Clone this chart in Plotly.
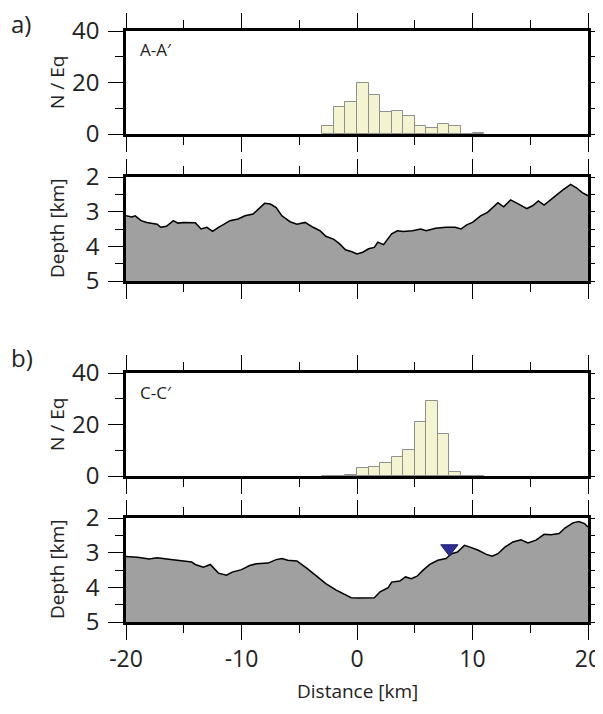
import plotly.graph_objects as go

# ---------------- data ----------------
bin_left = [-3, -2, -1, 0, 1, 2, 3, 4, 5, 6, 7, 8, 9, 10]
counts_a = [3, 10.5, 12.5, 20, 15, 8.5, 9, 7, 3, 2.5, 4, 3, 0, 0.5]
counts_b = [0, 0, 0.5, 3, 3.5, 5, 7.5, 10, 21, 29, 16.5, 1.5, 0, 0]

dist_a = [-20, -19.5, -19.2, -18.7, -18.2, -17.7, -17.3, -17, -16.5, -15.9, -15.5, -15, -14,
          -13.5, -13, -12.5, -12, -11.5, -11, -10.3, -9.7, -9, -8.7, -8, -7.5, -7, -6.5,
          -5.8, -5.2, -4.5, -3.8, -3.2, -2.7, -2, -1.5, -1, -0.5, 0, 0.5, 1, 1.5, 1.8, 2.3,
          3, 3.5, 4, 4.8, 5.5, 6, 6.8, 7.7, 8.5, 9, 9.5, 10, 10.7, 11.3, 11.8, 12.2, 12.7,
          13.3, 14, 14.7, 15.2, 15.7, 16.2, 17, 17.8, 18.5, 19, 19.5, 20]
depth_a = [3.12, 3.15, 3.12, 3.26, 3.31, 3.33, 3.36, 3.45, 3.42, 3.26, 3.33, 3.31, 3.32,
           3.50, 3.45, 3.57, 3.45, 3.36, 3.26, 3.21, 3.12, 3.07, 2.97, 2.76, 2.78, 2.88, 3.12,
           3.29, 3.36, 3.31, 3.45, 3.55, 3.71, 3.80, 3.93, 4.10, 4.15, 4.22, 4.17, 4.07, 4.03,
           3.88, 3.95, 3.64, 3.55, 3.57, 3.55, 3.50, 3.55, 3.48, 3.45, 3.45, 3.50, 3.38, 3.31,
           3.12, 3.02, 2.88, 2.74, 2.86, 2.66, 2.78, 2.91, 2.83, 2.69, 2.81, 2.59, 2.38, 2.21,
           2.31, 2.45, 2.54]

dist_b = [-20, -19, -18, -17.3, -16.3, -15.3, -14.3, -14, -13.3, -12.7, -12, -11.3, -10.8,
          -10, -9.3, -8.7, -7.7, -7, -6.5, -6, -5.2, -4.3, -3.5, -2.7, -1.8, -1, -0.5, 0.2,
          1, 1.5, 2, 2.7, 3, 3.7, 4.2, 4.7, 5.2, 5.7, 6.3, 7, 7.7, 8.2, 8.7, 9.3, 9.8, 10.5,
          11.2, 11.7, 12.2, 12.8, 13.5, 14.2, 14.8, 15.5, 16.2, 16.8, 17.5, 18, 18.7, 19.2,
          19.7, 20]
depth_b = [3.11, 3.13, 3.18, 3.15, 3.19, 3.22, 3.27, 3.34, 3.42, 3.34, 3.59, 3.65, 3.56,
           3.49, 3.37, 3.32, 3.30, 3.20, 3.17, 3.22, 3.24, 3.46, 3.67, 3.89, 4.08, 4.23, 4.30,
           4.31, 4.30, 4.30, 4.13, 4.01, 3.85, 3.82, 3.70, 3.75, 3.68, 3.51, 3.34, 3.22, 3.17,
           3.03, 2.98, 2.79, 2.84, 2.93, 3.05, 3.10, 3.03, 2.84, 2.69, 2.63, 2.72, 2.64, 2.47,
           2.48, 2.45, 2.29, 2.14, 2.10, 2.16, 2.26]

station_dist = [8.0]
station_depth = [2.88]

x_ticks = [-20, -10, 0, 10, 20]
x_ticktext = ["-20", "-10", "0", "10", "20"]
hist_ticks = [0, 20, 40]
depth_ticks = [2, 3, 4, 5]

# ---------------- figure ----------------
# page body has an 8px margin: figure sits at (8, 8) in the 603x714 window
OFF = 8
W, H = 595, 698
FONT = "Open Sans"

def px(x):
    return (x - OFF) / W

def py(y):
    return 1 - (y - OFF) / H

def yd(top, bottom):
    return [py(bottom), py(top)]

x_dom = [px(126), px(588)]
panels = [yd(31, 134), yd(177, 281), yd(373, 476), yd(518, 622)]

fig = go.Figure()

bar_centers = [b + 0.5 for b in bin_left]
bar_style = dict(marker=dict(color="#f4f4d0", line=dict(color="#8f8f8f", width=1)),
                 width=1.0, showlegend=False, hoverinfo="skip")

fig.add_trace(go.Bar(x=bar_centers, y=counts_a, xaxis="x", yaxis="y", **bar_style))
fig.add_trace(go.Bar(x=bar_centers, y=counts_b, xaxis="x3", yaxis="y3", **bar_style))

for dist, dep, xa, ya in [(dist_a, depth_a, "x2", "y2"), (dist_b, depth_b, "x4", "y4")]:
    fig.add_trace(go.Scatter(x=[dist[0], dist[-1]], y=[5, 5], mode="lines",
                             line=dict(width=0, color="#a0a0a0"), xaxis=xa, yaxis=ya,
                             showlegend=False, hoverinfo="skip"))
    fig.add_trace(go.Scatter(x=dist, y=dep, mode="lines", fill="tonexty",
                             fillcolor="#a0a0a0", line=dict(color="black", width=1.5),
                             xaxis=xa, yaxis=ya, showlegend=False, hoverinfo="skip"))

fig.add_trace(go.Scatter(x=station_dist, y=station_depth, mode="markers",
                         marker=dict(symbol="triangle-down", size=15, color="#2d2d96",
                                     line=dict(color="#1c1c70", width=1)),
                         xaxis="x4", yaxis="y4", showlegend=False, hoverinfo="skip"))

common_x = dict(range=[-20, 20], domain=x_dom, showline=True, linewidth=2.5,
                linecolor="black", mirror="allticks", ticks="outside", ticklen=15,
                tickwidth=1.2, tickcolor="black", tickvals=x_ticks, ticktext=x_ticktext,
                showgrid=False, zeroline=False, automargin=False,
                minor=dict(dtick=5, tick0=0, ticks="outside", ticklen=8, tickwidth=1.2,
                           tickcolor="black", showgrid=False),
                tickfont=dict(family=FONT, size=23, color="#222"))

common_y = dict(showline=True, linewidth=2.5, linecolor="black", mirror="allticks",
                ticks="outside", ticklen=15, tickwidth=1.2, tickcolor="black",
                showgrid=False, zeroline=False, ticklabelstandoff=4, automargin=False,
                tickfont=dict(family=FONT, size=24, color="#222"))

fig.update_layout(
    width=W, height=H, margin=dict(l=0, r=0, t=0, b=0, autoexpand=False),
    paper_bgcolor="white", plot_bgcolor="white", bargap=0,
    font=dict(family=FONT, color="#222"),
    xaxis=dict(anchor="y", showticklabels=False, **common_x),
    xaxis2=dict(anchor="y2", showticklabels=False, matches="x", **common_x),
    xaxis3=dict(anchor="y3", showticklabels=False, matches="x", **common_x),
    xaxis4=dict(anchor="y4", showticklabels=True, matches="x", **common_x),
    yaxis=dict(anchor="x", domain=panels[0], range=[0, 40], tickvals=hist_ticks,
               minor=dict(dtick=10, ticks="outside", ticklen=8, tickwidth=1.2, tickcolor="black"),
               **common_y),
    yaxis2=dict(anchor="x2", domain=panels[1], range=[5, 2], tickvals=depth_ticks,
                minor=dict(dtick=0.5, ticks="outside", ticklen=8, tickwidth=1.2, tickcolor="black"),
                **common_y),
    yaxis3=dict(anchor="x3", domain=panels[2], range=[0, 40], tickvals=hist_ticks,
                minor=dict(dtick=10, ticks="outside", ticklen=8, tickwidth=1.2, tickcolor="black"),
                **common_y),
    yaxis4=dict(anchor="x4", domain=panels[3], range=[5, 2], tickvals=depth_ticks,
                minor=dict(dtick=0.5, ticks="outside", ticklen=8, tickwidth=1.2, tickcolor="black"),
                **common_y),
)

def ann(text, x, y, size, angle=0, xanchor="center"):
    fig.add_annotation(text=text, x=px(x), y=py(y), xref="paper", yref="paper",
                       showarrow=False, textangle=angle, xanchor=xanchor, yanchor="middle",
                       font=dict(family=FONT, size=size, color="#222"))

ann("a)", 9, 24, 24, xanchor="left")
ann("b)", 9, 357, 24, xanchor="left")
ann("N / Eq", 57, 83, 19, angle=-90)
ann("Depth [km]", 57, 229, 19, angle=-90)
ann("N / Eq", 57, 425, 19, angle=-90)
ann("Depth [km]", 57, 570, 19, angle=-90)
ann("A-A′", 138, 50, 17, xanchor="left")
ann("C-C′", 138, 392, 17, xanchor="left")
ann("Distance [km]", 357, 691, 19)

fig.write_html("out.html")
